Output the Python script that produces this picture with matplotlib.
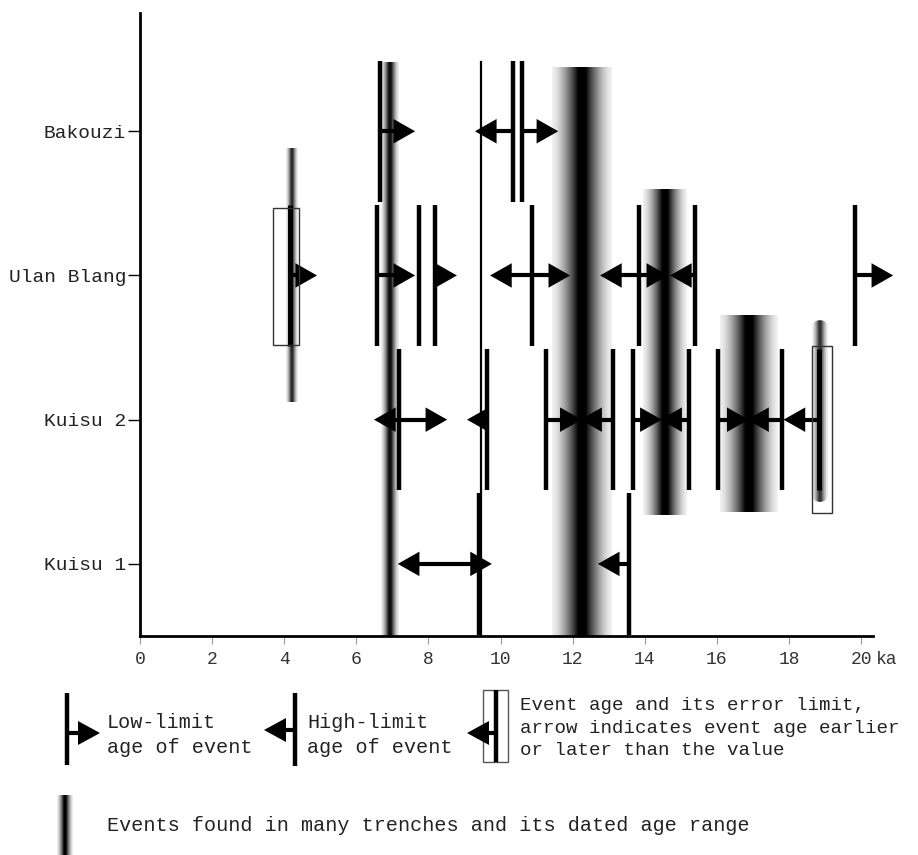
import numpy as np
import matplotlib.pyplot as plt
from matplotlib.patches import Rectangle, FancyBboxPatch

plt.rcParams['font.family'] = ['Liberation Mono', 'DejaVu Sans']

# sites, bottom to top
sites = ['Kuisu 1', 'Kuisu 2', 'Ulan Blang', 'Bakouzi']
site_row = [1, 2, 3, 4]

# event lines (ka) and arrow tips (ka): tip > age = low limit, tip < age = high limit
bakouzi_age = [6.66, 10.35, 10.6]
bakouzi_tips = [[7.63], [9.29], [11.6]]
ulan_age = [6.57, 7.75, 8.18, 10.87, 13.85, 15.4, 19.83]
ulan_tips = [[7.63], [], [8.79], [9.71, 11.93], [12.76, 14.65], [14.7], [20.89]]
kuisu2_age = [7.18, 9.63, 11.26, 13.12, 13.68, 15.23, 16.03, 17.8]
kuisu2_tips = [[6.49, 8.52], [9.07], [12.25], [12.21], [14.47], [14.43], [16.88], [16.84]]
kuisu1_age = [9.4, 13.55]
kuisu1_tips = [[7.15, 9.76], [12.7]]

# dated events with error limits
box_row = [3, 2]
box_age = [4.15, 18.83]
box_lo = [3.7, 18.64]
box_hi = [4.4, 19.2]
box_y0 = [2.52, 1.35]
box_y1 = [3.47, 2.51]
box_tip = [4.91, 17.85]

# events found in many trenches: centre, half range, vertical span
band_centre = [4.2, 6.93, 12.25, 14.55, 16.9, 18.86]
band_half = [0.16, 0.24, 0.83, 0.6, 0.8, 0.22]
band_bottom = [2.12, 0.5, 0.5, 1.34, 1.36, 1.43]
band_top = [3.88, 4.48, 4.44, 3.6, 2.72, 2.69]
band_peak = [0.85, 0.95, 1.0, 1.0, 1.0, 0.8]

thin_line_age = 9.47
thin_line_top = 4.48

x_ticks = [0, 2, 4, 6, 8, 10, 12, 14, 16, 18, 20]

HALF = 0.49


def arrow(ax, x0, x1, y, hl, hh, lw=3, z=4):
    s = np.sign(x1 - x0)
    base = x1 - s * hl
    ax.plot([x0, x1 - s * hl * 0.5], [y, y], color='k', lw=lw,
            solid_capstyle='butt', zorder=z, clip_on=False)
    ax.fill([x1, base, base], [y, y + hh, y - hh], color='k', lw=0,
            zorder=z, clip_on=False)


def gradient(ax, x0, x1, y0, y1, peak):
    t = np.linspace(-1, 1, 300)
    a = peak * np.clip(1.15 * (1 - np.abs(t)) ** 1.5 + 0.06, 0, 1)
    img = np.zeros((1, 300, 4))
    img[..., 3] = a
    return ax.imshow(img, extent=[x0, x1, y0, y1], aspect='auto',
                     interpolation='bilinear', zorder=1)


fig = plt.figure(figsize=(9.18, 8.55), dpi=100)
ax = fig.add_axes([140 / 918, 1 - 636 / 855, 733 / 918, 623 / 855])

# bands
for i in range(len(band_centre)):
    im = gradient(ax, band_centre[i] - band_half[i], band_centre[i] + band_half[i],
                  band_bottom[i], band_top[i], band_peak[i])
    if i == len(band_centre) - 1:
        clip = FancyBboxPatch((band_centre[i] - band_half[i], band_bottom[i]),
                              2 * band_half[i], band_top[i] - band_bottom[i],
                              boxstyle='round,pad=0,rounding_size=0.22',
                              mutation_aspect=0.25, transform=ax.transData)
        im.set_clip_path(clip)

ax.plot([thin_line_age, thin_line_age], [0.5, thin_line_top], color='k', lw=1.6, zorder=3)

rows = [(1, kuisu1_age, kuisu1_tips), (2, kuisu2_age, kuisu2_tips),
        (3, ulan_age, ulan_tips), (4, bakouzi_age, bakouzi_tips)]
for row, ages, tips in rows:
    for age, tt in zip(ages, tips):
        ax.plot([age, age], [row - HALF, row + HALF], color='k', lw=3.2,
                solid_capstyle='butt', zorder=3)
        for tip in tt:
            arrow(ax, age, tip, row, 0.6, 0.085)

for i in range(len(box_row)):
    ax.add_patch(Rectangle((box_lo[i], box_y0[i]), box_hi[i] - box_lo[i],
                           box_y1[i] - box_y0[i], fill=False, ec='#333', lw=1, zorder=5))
    ax.plot([box_age[i], box_age[i]], [box_row[i] - HALF, box_row[i] + HALF],
            color='k', lw=3.6, solid_capstyle='butt', zorder=3)
    arrow(ax, box_age[i], box_tip[i], box_row[i], 0.6, 0.085)

ax.set_xlim(0, 20.33)
ax.set_ylim(0.5, 4.82)
ax.spines['top'].set_visible(False)
ax.spines['right'].set_visible(False)
ax.spines['left'].set_linewidth(2)
ax.spines['bottom'].set_linewidth(2)
ax.set_xticks(x_ticks)
ax.set_xticklabels([str(v) for v in x_ticks], fontsize=13, color='#333')
ax.tick_params(axis='x', length=6, width=0.8, color='#999', pad=5)
ax.set_yticks(site_row)
ax.set_yticklabels(sites, fontsize=14, color='#222')
ax.tick_params(axis='y', length=9, width=1, pad=1)
ax.annotate('ka', xy=(20.4, 0), xycoords=('data', 'axes fraction'),
            xytext=(0, -11), textcoords='offset points', va='top', ha='left',
            fontsize=13, color='#333')

# legend, drawn in pixel space
lg = fig.add_axes([0, 0, 1, 1])
lg.set_xlim(0, 918)
lg.set_ylim(855, 0)
lg.axis('off')

lg.plot([67, 67], [693, 765], color='k', lw=3.2, solid_capstyle='butt')
arrow(lg, 67, 100, 733, 22, 12)
lg.text(107, 735, 'Low-limit\nage of event', fontsize=14.5, va='center',
        linespacing=1.4, color='#222')

lg.plot([295, 295], [693, 766], color='k', lw=3.2, solid_capstyle='butt')
arrow(lg, 295, 264, 730, 22, 12)
lg.text(307, 735, 'High-limit\nage of event', fontsize=14.5, va='center',
        linespacing=1.4, color='#222')

lg.add_patch(Rectangle((483, 690), 25, 72, fill=False, ec='#555', lw=1))
lg.plot([496, 496], [690, 762], color='k', lw=3.2, solid_capstyle='butt')
arrow(lg, 496, 467, 733, 22, 12)
lg.text(520, 728, 'Event age and its error limit,\narrow indicates event age earlier\n'
        'or later than the value', fontsize=13.8, va='center',
        linespacing=1.45, color='#222')

gradient(lg, 57, 73, 855, 795, 1.0)
lg.set_xlim(0, 918)
lg.set_ylim(855, 0)
lg.text(107, 825, 'Events found in many trenches and its dated age range',
        fontsize=14.5, va='center', color='#222')

fig.savefig('out.png', dpi=100)
